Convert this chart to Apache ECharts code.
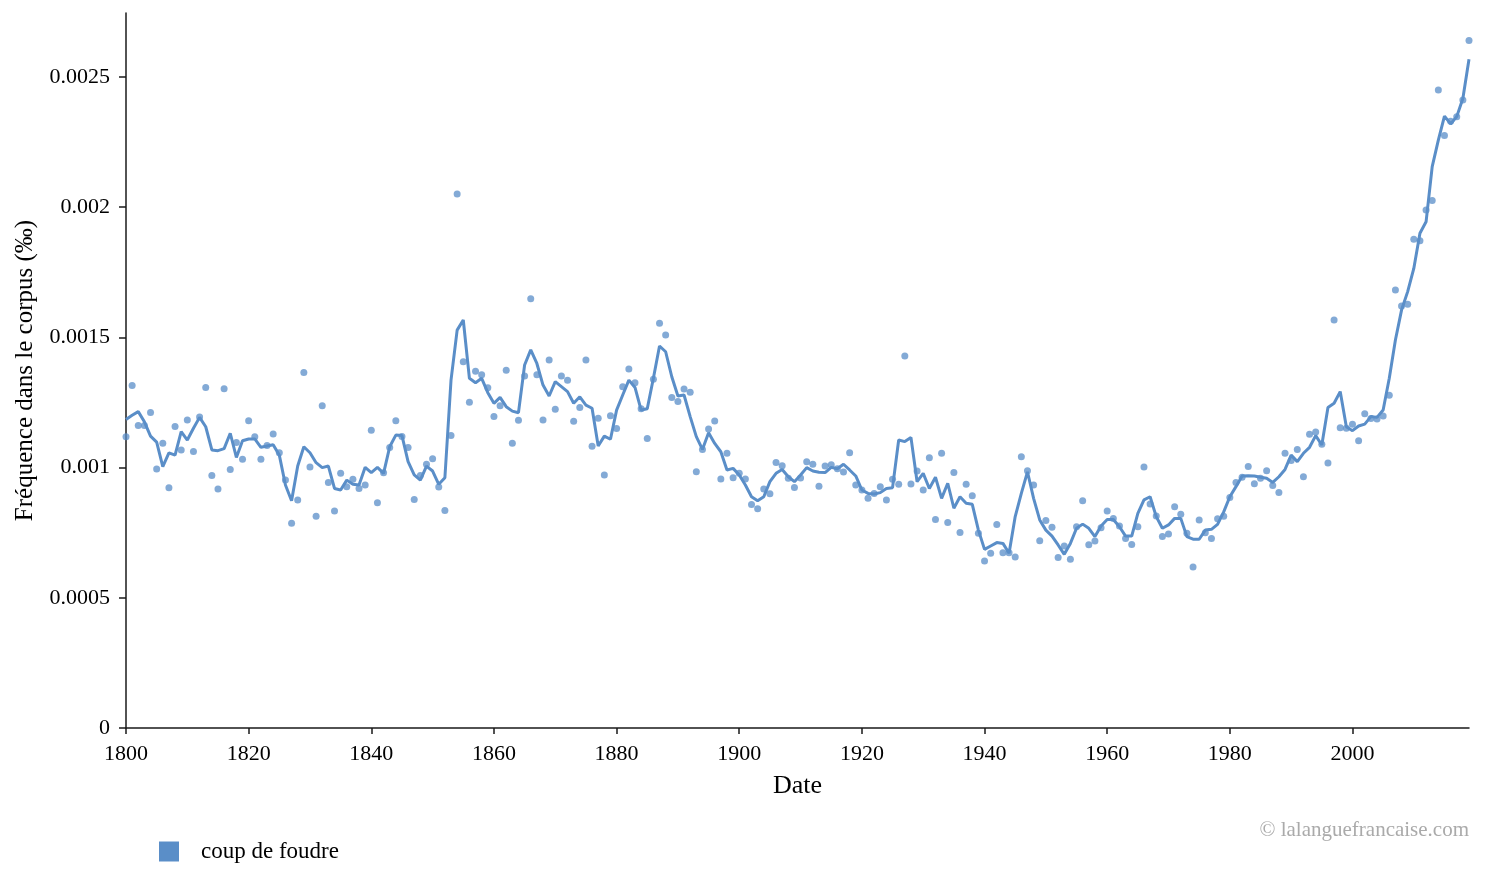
<!DOCTYPE html>
<html>
<head>
<meta charset="utf-8">
<title>coup de foudre</title>
<script src="https://cdn.jsdelivr.net/npm/echarts@6/dist/echarts.min.js"></script>
<style>
    html, body { margin: 0; padding: 0; background: #fff; }
    #chart { width: 1485px; height: 887px; }
</style>
</head>
<body>
<div id="chart"></div>
<script>
var firstYear = 1800;
var lastYear = 2019;

// yearly frequency (dots)
var yearly = [
    0.001119, 0.001315, 0.001162, 0.001162, 0.001212, 0.000995, 0.001094, 0.000923, 0.001158, 0.001068,
    0.001183, 0.001062, 0.001194, 0.001308, 0.000970, 0.000918, 0.001303, 0.000993, 0.001096, 0.001032,
    0.001180, 0.001119, 0.001032, 0.001085, 0.001129, 0.001057, 0.000952, 0.000786, 0.000876, 0.001365,
    0.001002, 0.000813, 0.001238, 0.000943, 0.000833, 0.000978, 0.000927, 0.000955, 0.000920, 0.000933,
    0.001144, 0.000865, 0.000980, 0.001077, 0.001180, 0.001120, 0.001077, 0.000878, 0.000970, 0.001013,
    0.001034, 0.000926, 0.000835, 0.001123, 0.002051, 0.001407, 0.001251, 0.001370, 0.001357, 0.001307,
    0.001196, 0.001238, 0.001374, 0.001094, 0.001182, 0.001352, 0.001649, 0.001357, 0.001183, 0.001413,
    0.001224, 0.001352, 0.001336, 0.001178, 0.001231, 0.001413, 0.001082, 0.001190, 0.000972, 0.001199,
    0.001150, 0.001311, 0.001379, 0.001326, 0.001226, 0.001112, 0.001339, 0.001554, 0.001509, 0.001269,
    0.001254, 0.001302, 0.001289, 0.000984, 0.001070, 0.001148, 0.001179, 0.000956, 0.001055, 0.000961,
    0.000978, 0.000956, 0.000858, 0.000842, 0.000918, 0.000900, 0.001020, 0.001007, 0.000959, 0.000924,
    0.000960, 0.001023, 0.001013, 0.000928, 0.001006, 0.001011, 0.000996, 0.000983, 0.001057, 0.000933,
    0.000914, 0.000882, 0.000901, 0.000927, 0.000876, 0.000955, 0.000936, 0.001429, 0.000937, 0.000987,
    0.000914, 0.001038, 0.000801, 0.001055, 0.000789, 0.000981, 0.000751, 0.000936, 0.000892, 0.000748,
    0.000641, 0.000671, 0.000782, 0.000673, 0.000673, 0.000657, 0.001042, 0.000988, 0.000933, 0.000719,
    0.000797, 0.000771, 0.000655, 0.000699, 0.000648, 0.000773, 0.000873, 0.000704, 0.000718, 0.000769,
    0.000833, 0.000805, 0.000776, 0.000728, 0.000705, 0.000773, 0.001002, 0.000860, 0.000814, 0.000735,
    0.000745, 0.000850, 0.000821, 0.000748, 0.000618, 0.000799, 0.000750, 0.000728, 0.000804, 0.000813,
    0.000885, 0.000943, 0.000963, 0.001004, 0.000938, 0.000959, 0.000988, 0.000931, 0.000904, 0.001055,
    0.001027, 0.001070, 0.000965, 0.001128, 0.001137, 0.001090, 0.001018, 0.001567, 0.001153, 0.001151,
    0.001167, 0.001103, 0.001207, 0.001189, 0.001187, 0.001198, 0.001278, 0.001682, 0.001621, 0.001627,
    0.001877, 0.001871, 0.001989, 0.002026, 0.002450, 0.002276, 0.002330, 0.002348, 0.002412, 0.002640
];

// smoothed curve
var smoothed = [
    0.001185, 0.001201, 0.001215, 0.001176, 0.001121, 0.001098, 0.001004, 0.001057, 0.001048, 0.001138,
    0.001106, 0.001151, 0.001193, 0.001157, 0.001068, 0.001065, 0.001073, 0.001132, 0.001039, 0.001103,
    0.001110, 0.001110, 0.001078, 0.001083, 0.001088, 0.001048, 0.000933, 0.000873, 0.001006, 0.001080,
    0.001057, 0.001019, 0.001000, 0.001006, 0.000920, 0.000914, 0.000952, 0.000936, 0.000933, 0.001001,
    0.000981, 0.001001, 0.000978, 0.001080, 0.001125, 0.001123, 0.001023, 0.000972, 0.000952, 0.001006,
    0.000987, 0.000936, 0.000961, 0.001336, 0.001528, 0.001567, 0.001343, 0.001326, 0.001343, 0.001288,
    0.001247, 0.001270, 0.001234, 0.001217, 0.001211, 0.001394, 0.001452, 0.001400, 0.001317, 0.001275,
    0.001330, 0.001311, 0.001292, 0.001247, 0.001272, 0.001240, 0.001228, 0.001083, 0.001121, 0.001109,
    0.001221, 0.001279, 0.001336, 0.001308, 0.001221, 0.001226, 0.001343, 0.001467, 0.001445, 0.001349,
    0.001275, 0.001279, 0.001196, 0.001119, 0.001070, 0.001134, 0.001093, 0.001061, 0.000991, 0.000997,
    0.000972, 0.000933, 0.000888, 0.000873, 0.000888, 0.000946, 0.000978, 0.000993, 0.000965, 0.000946,
    0.000972, 0.001000, 0.000987, 0.000982, 0.000981, 0.001001, 0.000996, 0.001013, 0.000991, 0.000968,
    0.000914, 0.000901, 0.000899, 0.000904, 0.000920, 0.000923, 0.001106, 0.001100, 0.001116, 0.000946,
    0.000978, 0.000920, 0.000963, 0.000882, 0.000940, 0.000844, 0.000888, 0.000863, 0.000859, 0.000760,
    0.000686, 0.000699, 0.000712, 0.000709, 0.000671, 0.000812, 0.000901, 0.000984, 0.000882, 0.000799,
    0.000760, 0.000737, 0.000703, 0.000667, 0.000709, 0.000767, 0.000783, 0.000767, 0.000735, 0.000776,
    0.000801, 0.000801, 0.000773, 0.000737, 0.000737, 0.000824, 0.000876, 0.000888, 0.000812, 0.000767,
    0.000780, 0.000805, 0.000805, 0.000735, 0.000725, 0.000725, 0.000760, 0.000763, 0.000782, 0.000830,
    0.000888, 0.000927, 0.000968, 0.000969, 0.000968, 0.000963, 0.000959, 0.000943, 0.000965, 0.000993,
    0.001048, 0.001023, 0.001055, 0.001078, 0.001123, 0.001087, 0.001231, 0.001247, 0.001292, 0.001157,
    0.001142, 0.001160, 0.001167, 0.001196, 0.001193, 0.001221, 0.001343, 0.001490, 0.001605, 0.001676,
    0.001765, 0.001900, 0.001944, 0.002156, 0.002258, 0.002350, 0.002320, 0.002348, 0.002418, 0.002568
];

var xTicks = [1800, 1820, 1840, 1860, 1880, 1900, 1920, 1940, 1960, 1980, 2000];
var yTicks = [0, 0.0005, 0.001, 0.0015, 0.002, 0.0025];

var seriesColor = '#5a8ec8';
var serif = 'Liberation Serif';

var dotData = [];
var lineData = [];
for (var i = 0; i < yearly.length; i++) {
    dotData.push([firstYear + i, yearly[i]]);
    lineData.push([firstYear + i, smoothed[i]]);
}

var option = {
    animation: false,
    textStyle: { fontFamily: serif },
    grid: {
        left: 126,
        right: 16,
        top: 13,
        bottom: 159,
        outerBoundsMode: 'none'
    },
    legend: {
        data: [{ name: 'coup de foudre', icon: 'rect' }],
        left: 159,
        top: 840,
        padding: 0,
        itemWidth: 20,
        itemHeight: 20,
        textStyle: {
            fontFamily: serif,
            fontSize: 23,
            color: '#000',
            padding: [0, 0, 0, 17]
        }
    },
    graphic: [{
        type: 'text',
        right: 16,
        top: 820,
        style: {
            text: '© lalanguefrancaise.com',
            font: '21px "Liberation Serif"',
            fill: '#aaaaaa'
        }
    }],
    xAxis: {
        type: 'value',
        min: firstYear,
        max: lastYear,
        name: 'Date',
        nameLocation: 'middle',
        nameGap: 45,
        nameTextStyle: { fontFamily: serif, fontSize: 26, color: '#000' },
        splitLine: { show: false },
        axisLine: { lineStyle: { color: '#1a1a1a', width: 1.5 } },
        axisTick: { length: 6, lineStyle: { color: '#1a1a1a', width: 1.5 }, customValues: xTicks },
        axisLabel: {
            customValues: xTicks,
            margin: 15,
            fontFamily: serif,
            fontSize: 22,
            color: '#000',
            formatter: function (v) { return String(v); }
        }
    },
    yAxis: {
        type: 'value',
        min: 0,
        max: 0.002746,
        name: 'Fréquence dans le corpus (‰)',
        nameLocation: 'middle',
        nameGap: 88,
        nameTextStyle: { fontFamily: serif, fontSize: 25, color: '#000' },
        splitLine: { show: false },
        axisLine: { show: true, lineStyle: { color: '#1a1a1a', width: 1.5 } },
        axisTick: { show: true, length: 7, lineStyle: { color: '#1a1a1a', width: 1.5 }, customValues: yTicks },
        axisLabel: {
            customValues: yTicks,
            margin: 16,
            fontFamily: serif,
            fontSize: 22,
            color: '#000',
            formatter: function (v) { return String(v); }
        }
    },
    series: [
        {
            name: 'points',
            type: 'scatter',
            data: dotData,
            symbolSize: 7,
            itemStyle: { color: seriesColor, opacity: 0.75 },
            z: 2
        },
        {
            name: 'coup de foudre',
            type: 'line',
            data: lineData,
            showSymbol: false,
            symbol: 'none',
            lineStyle: { color: seriesColor, width: 3 },
            itemStyle: { color: seriesColor },
            z: 3
        }
    ]
};

var chart = echarts.init(document.getElementById('chart'));
chart.setOption(option);
</script>
</body>
</html>
